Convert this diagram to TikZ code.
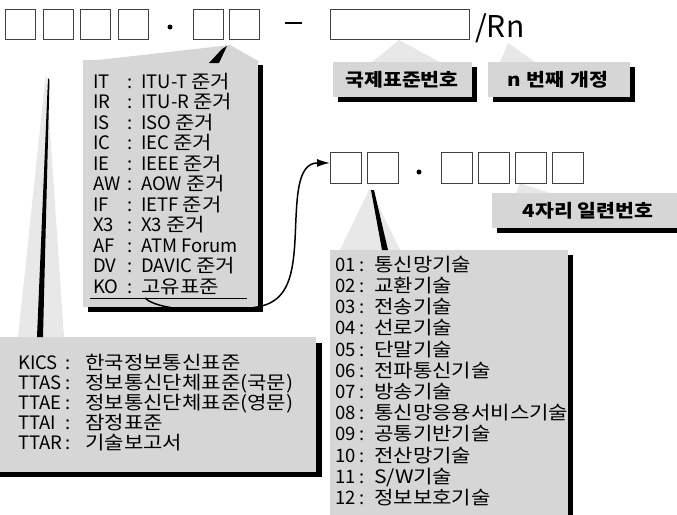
\documentclass[tikz,border=0pt]{standalone}
\usepackage{fontspec}
\setmainfont{Noto Sans CJK KR}
\newfontfamily\kr{Noto Sans CJK KR}[FakeStretch=1.14]
\usetikzlibrary{arrows.meta}
\newcommand{\wsp}{\hspace{4pt}}
\newcommand{\hk}[1]{{\kr #1}}
\begin{document}
\begin{tikzpicture}[x=1pt,y=-1pt,
  sq/.style={draw=black!75,line width=0.8pt,fill=white,inner sep=0,minimum width=30pt,minimum height=30pt,anchor=north west},
  sqb/.style={sq,minimum width=31pt,minimum height=31pt},
  callout/.style={fill=black!16},
  faint/.style={fill=black!9},
  shadowbox/.style={fill=black},
  lst/.style={anchor=base west,inner sep=0,font=\fontsize{18.5}{20}\selectfont},
  lbl/.style={font=\kr\bfseries\fontsize{18}{20}\selectfont,inner sep=0},
  pt/.style={circle,fill=black,inner sep=0,minimum size=5pt}]
\useasboundingbox (0,0) rectangle (677,514);
\clip (0,0) rectangle (677,514);

% ---- callout shadows
\fill[shadowbox] (88,65) rectangle (263,312);
\fill[shadowbox] (338,67) rectangle (477,102);
\fill[shadowbox] (493,67) rectangle (635,102);
\fill[shadowbox] (497,198) rectangle (682,233);
\fill[shadowbox] (335,255) rectangle (573,520);
\fill[shadowbox] (0,343) rectangle (322,477);

% ---- callout tails
\fill[callout] (80,62) -- (213,47) -- (230,45) -- (260,62) -- cycle;
\fill[faint] (372,62) -- (399,40) -- (440,62) -- cycle;
\fill[faint] (500,62) -- (508,43) -- (535,62) -- cycle;
\fill[faint] (516,193) -- (520,183) -- (550,193) -- cycle;
\fill[faint] (340,250) -- (370,188) -- (400,250) -- cycle;
\fill[faint] (18,337) -- (46,72) -- (64,337) -- cycle;

% ---- callout boxes
\fill[callout] (83,60) rectangle (258,307);
\fill[callout] (333,62) rectangle (472,97);
\fill[callout] (488,62) rectangle (630,97);
\fill[callout] (492,193) rectangle (682,228);
\fill[callout] (330,250) rectangle (568,520);
\fill[callout] (-5,337) rectangle (316,472);

% ---- black wedges of the tails
\fill (227,46) -- (222,49) -- (209,63) -- (219,63) -- cycle;
\fill (48,78) -- (49.5,80) -- (43,337) -- (37,337) -- cycle;
\fill (371,190) -- (374,190) -- (388,250) -- (382,250) -- cycle;

% ---- top row
\node[sq] (a1) at (5,9) {};
\node[sq] (a2) at (43,9) {};
\node[sq] (a3) at (80,9) {};
\node[sq] (a4) at (118,9) {};
\node[pt] (d1) at (170,27) {};
\node[sq] (a5) at (193,9) {};
\node[sq] (a6) at (229,9) {};
\draw[line width=1.6pt] (285,23) -- (302,23);
\node[sq,minimum width=139pt] (wide) at (330,9) {};
\node[anchor=base west,inner sep=0,font=\fontsize{30}{30}\selectfont] (rn) at (475,37) {/Rn};

% ---- second row
\node[sqb] (b1) at (330,152) {};
\node[sqb] (b2) at (367,152) {};
\node[pt] (d2) at (419,172) {};
\node[sqb] (b3) at (441,152) {};
\node[sqb] (b4) at (478,152) {};
\node[sqb] (b5) at (515,152) {};
\node[sqb] (b6) at (552,152) {};

% ---- labels
\node[lbl] (kstd) at (402,80) {국제표준번호};
\node[lbl] (nrev) at (558,80) {n\hspace{6pt}번째\hspace{6pt}개정};
\node[lbl] (serial) at (588,211) {4자리 일련번호};

% ---- top list
\foreach \c/\v [count=\i from 0] in {IT/ITU-T\wsp\hk{준거}, IR/ITU-R\wsp\hk{준거}, IS/ISO\wsp\hk{준거}, IC/IEC\wsp\hk{준거}, IE/IEEE\wsp\hk{준거}, AW/AOW\wsp\hk{준거}, IF/IETF\wsp\hk{준거}, X3/X3\wsp\hk{준거}, AF/ATM\wsp Forum, DV/DAVIC\wsp\hk{준거}, KO/\hk{고유표준}} {
  \node[lst] (tc\i) at (93,88.3+20.5*\i) {\c};
  \node[lst] (tk\i) at (127,88.3+20.5*\i) {:};
  \node[lst] (tv\i) at (141,88.3+20.5*\i) {\v};
}
\draw[line width=1pt] (90,298) -- (247,298);

% ---- KICS list
\foreach \c/\v [count=\i from 0] in {KICS/한국정보통신표준, TTAS/정보통신단체표준(국문), TTAE/정보통신단체표준(영문), TTAI/잠정표준, TTAR/기술보고서} {
  \node[lst] (kc\i) at (18,369+20*\i) {\c};
  \node[lst] (kk\i) at (65,369+20*\i) {:};
  \node[lst] (kv\i) at (85,369+20*\i) {\hk{\v}};
}

% ---- field list
\foreach \c/\v [count=\i from 0] in {01/통신망기술, 02/교환기술, 03/전송기술, 04/선로기술, 05/단말기술, 06/전파통신기술, 07/방송기술, 08/통신망응용서비스기술, 09/공통기반기술, 10/전산망기술, 11/{S/W기술}, 12/정보보호기술} {
  \node[lst] (fc\i) at (335,271.3+21.2*\i) {\c};
  \node[lst] (fk\i) at (359,271.3+21.2*\i) {:};
  \node[lst] (fv\i) at (374,271.3+21.2*\i) {\hk{\v}};
}

% ---- curved arrow
\coordinate (cs) at (145,298);
\draw[line width=1.5pt,-{Latex[length=13pt,width=8pt]}] (cs) .. controls (160,313) and (232,313) .. (262,306) .. controls (288,299) and (293,275) .. (295,240) .. controls (297,200) and (296,163) .. ([yshift=5pt]b1.west);
\end{tikzpicture}
\end{document}
